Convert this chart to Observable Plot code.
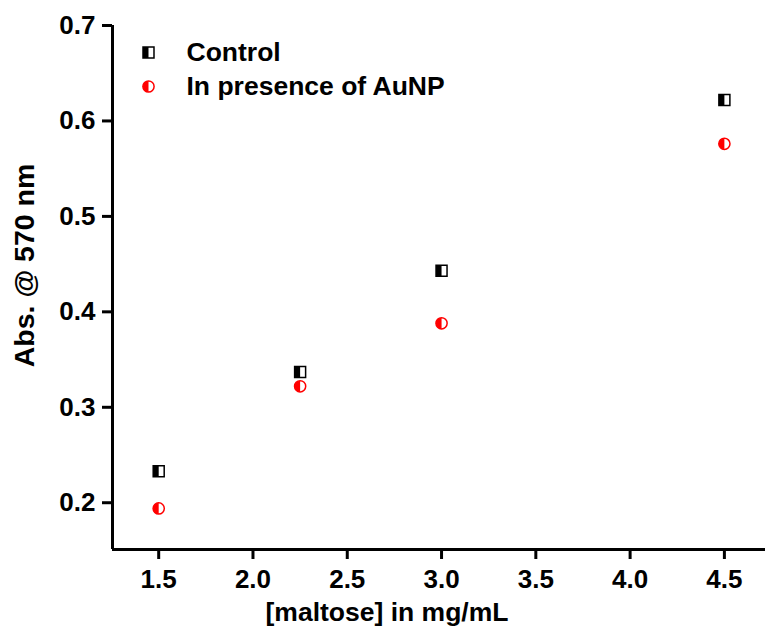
<!DOCTYPE html>
<html>
<head>
<meta charset="utf-8">
<script src="https://cdn.jsdelivr.net/npm/d3@7"></script>
<script src="https://cdn.jsdelivr.net/npm/@observablehq/plot@0.6"></script>
<style>
  html, body { margin: 0; padding: 0; background: #fff; }
  #chart { width: 765px; height: 630px; }
</style>
</head>
<body>
<div id="chart"></div>
<script>
// ---- data ----
const maltose = [1.5, 2.25, 3.0, 4.5];
const controlAbs = [0.233, 0.337, 0.443, 0.622];
const aunpAbs = [0.194, 0.322, 0.388, 0.576];
const seriesNames = ["Control", "In presence of AuNP"];
const xTicks = [1.5, 2.0, 2.5, 3.0, 3.5, 4.0, 4.5];
const yTicks = [0.2, 0.3, 0.4, 0.5, 0.6, 0.7];
const xDomain = [1.255, 4.718];
const yDomain = [0.151, 0.7];
const xLabel = "[maltose] in mg/mL";
const yLabel = "Abs. @ 570 nm";

const control = maltose.map((x, i) => ({x, y: controlAbs[i]}));
const aunp = maltose.map((x, i) => ({x, y: aunpAbs[i]}));

const halfSquare = {
  draw(ctx, size) { const w = Math.sqrt(size); ctx.rect(-w / 2, -w / 2, w / 2, w); }
};
const halfCircle = {
  draw(ctx, size) {
    const r = Math.sqrt(size / Math.PI);
    ctx.moveTo(0, -r);
    ctx.arc(0, 0, r, -Math.PI / 2, Math.PI / 2, true);
    ctx.closePath();
  }
};

function squareMarks(data, opts = {}) {
  return [
    Plot.dot(data, {...opts, symbol: "square", r: 6.2, fill: "white", stroke: "black", strokeWidth: 1.5}),
    Plot.dot(data, {...opts, symbol: halfSquare, r: 6.2, fill: "black", stroke: "none"})
  ];
}
function circleMarks(data, opts = {}) {
  return [
    Plot.dot(data, {...opts, symbol: "circle", r: 5.6, fill: "white", stroke: "red", strokeWidth: 1.5}),
    Plot.dot(data, {...opts, symbol: halfCircle, r: 5.6, fill: "red", stroke: "none"})
  ];
}

const fmt = d3.format(".1f");

const chart = Plot.plot({
  width: 765,
  height: 630,
  marginLeft: 112,
  marginRight: 0,
  marginTop: 25,
  marginBottom: 81,
  style: {fontFamily: "'Liberation Sans', Arial, sans-serif", fontWeight: "bold", fontSize: "26px", color: "black", background: "white"},
  x: {domain: xDomain},
  y: {domain: yDomain},
  marks: [
    Plot.axisX({ticks: xTicks, tickFormat: fmt, tickSize: 10, tickPadding: 10, strokeWidth: 3, label: null, fontSize: 26}),
    Plot.axisY({ticks: yTicks, tickFormat: fmt, tickSize: 10, tickPadding: 7, strokeWidth: 3, label: null, fontSize: 26}),
    Plot.ruleX([xDomain[0]], {stroke: "black", strokeWidth: 3}),
    Plot.ruleY([yDomain[0]], {stroke: "black", strokeWidth: 3}),
    Plot.text([xLabel], {frameAnchor: "bottom", textAnchor: "middle", lineAnchor: "middle", dx: -52, dy: 63, fontSize: 26.5, fontWeight: "bold", fill: "black"}),
    Plot.text([yLabel], {frameAnchor: "left", textAnchor: "middle", lineAnchor: "middle", rotate: -90, dx: -88, dy: -22, fontSize: 28.5, fontWeight: "bold", fill: "black"}),
    ...squareMarks(control, {x: "x", y: "y"}),
    ...circleMarks(aunp, {x: "x", y: "y"}),
    // legend
    ...squareMarks([0], {frameAnchor: "top-left", dx: 36, dy: 27}),
    ...circleMarks([0], {frameAnchor: "top-left", dx: 36, dy: 61}),
    Plot.text([seriesNames[0]], {frameAnchor: "top-left", dx: 74, dy: 27, textAnchor: "start", lineAnchor: "middle", fontSize: 26.5, fontWeight: "bold", fill: "black"}),
    Plot.text([seriesNames[1]], {frameAnchor: "top-left", dx: 74, dy: 61, textAnchor: "start", lineAnchor: "middle", fontSize: 26.5, fontWeight: "bold", fill: "black"})
  ]
});
document.getElementById("chart").appendChild(chart);
</script>
</body>
</html>
